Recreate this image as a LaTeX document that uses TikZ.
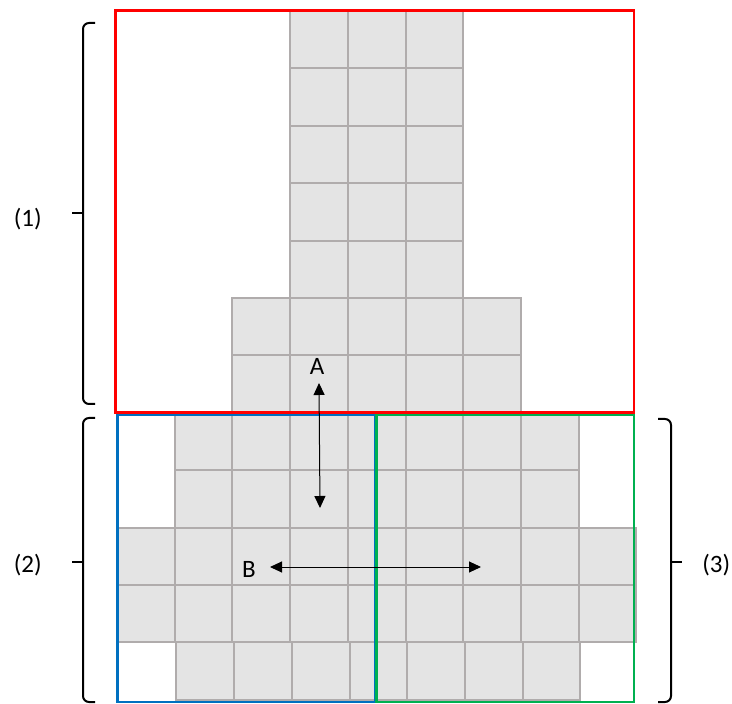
\documentclass[tikz,border=0pt]{standalone}
\usepackage{fontspec}
\setmainfont{Carlito}
\usetikzlibrary{arrows.meta,positioning}
\definecolor{cellfill}{RGB}{228,228,228}
\definecolor{cellline}{RGB}{176,172,172}
\definecolor{frameblue}{RGB}{0,112,192}
\definecolor{framegreen}{RGB}{0,176,80}

\begin{document}
\begin{tikzpicture}[
  x=0.5pt, y=-0.5pt,
  cell/.style={fill=cellfill, draw=cellline, line width=1pt},
  outline/.style={line width=1.35pt},
  brace/.style={line width=1pt, rounded corners=3pt},
  bracetip/.style={line width=1.4pt},
  tag/.style={inner sep=0pt, font=\fontsize{12.5}{15}\selectfont},
  arrow/.style={{Triangle[length=6pt,width=5.5pt]}-{Triangle[length=6pt,width=5.5pt]}, line width=0.5pt}
]
  \useasboundingbox (0,0) rectangle (732,704);

  % cells: row / first col / last col / x shift
  \begin{scope}[shift={(117,11)}, x=28.85pt, y=-28.7pt]
    \foreach \r/\a/\b/\dx in {0/3/5/0, 1/3/5/0, 2/3/5/0, 3/3/5/0, 4/3/5/0,
                              5/2/6/0, 6/2/6/0, 7/1/7/0, 8/1/7/0,
                              9/0/8/0, 10/0/8/0, 11/1/7/0.03}
      \foreach \c in {\a,...,\b}
        \draw[cell] (\c+\dx,\r) rectangle ++(1,1);
  \end{scope}

  % frames
  \draw[outline, frameblue] (117.5,415) rectangle (375,702);
  \draw[outline, framegreen] (376.5,415) rectangle (634,702);
  \draw[outline, red] (115.5,10.5) rectangle (634,412.5);

  % arrows A and B
  \coordinate (aTop) at (319,383);
  \coordinate (aBot) at (320,508);
  \coordinate (bLeft) at (270,567);
  \coordinate (bRight) at (481,567);
  \draw[arrow] (aTop) -- (aBot);
  \draw[arrow] (bLeft) -- (bRight);
  \node[tag, above=4pt of aTop, xshift=-1pt] (labA) {A};
  \node[tag, left=7pt of bLeft, yshift=-1pt] (labB) {B};

  % braces
  \coordinate (tip1) at (72,213);
  \coordinate (mid1) at (83,213);
  \coordinate (tip2) at (72,562);
  \coordinate (mid2) at (83,562);
  \coordinate (tip3) at (682,562);
  \coordinate (mid3) at (671,562);
  \draw[brace] (95,23) -| (83,404) -- (95,404);
  \draw[brace] (95,418) -| (83,702) -- (95,702);
  \draw[brace] (658,419) -| (671,702) -- (658,702);
  \draw[bracetip] (tip1) -- (mid1);
  \draw[bracetip] (tip2) -- (mid2);
  \draw[bracetip] (mid3) -- (tip3);
  \node[tag, left=15pt of tip1, yshift=-3pt] (lab1) {(1)};
  \node[tag, left=15pt of tip2, yshift=-1.5pt] (lab2) {(2)};
  \node[tag, right=10pt of tip3, yshift=-1.5pt] (lab3) {(3)};
\end{tikzpicture}
\end{document}
